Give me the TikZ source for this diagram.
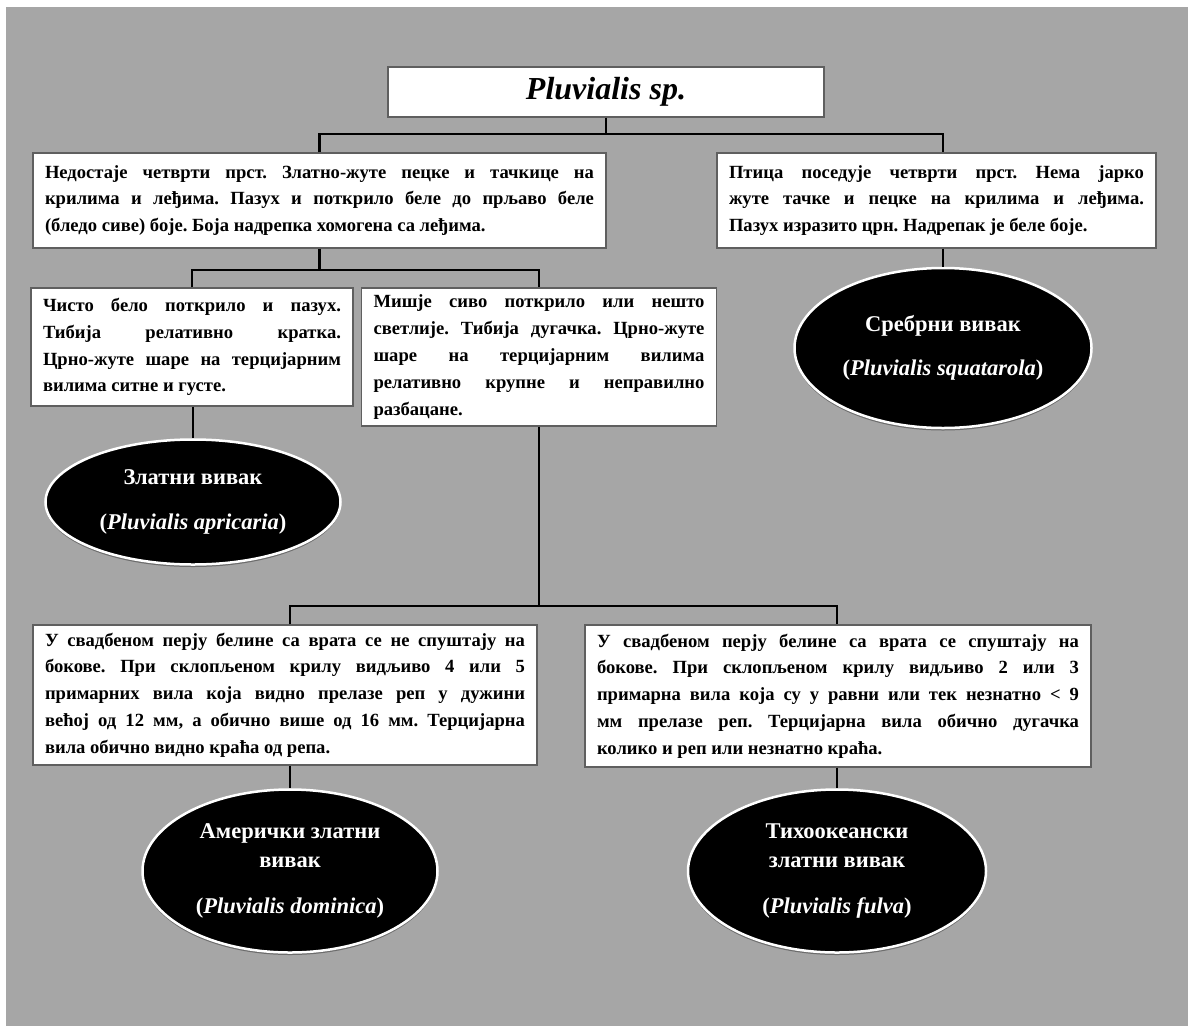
\documentclass[tikz,border=0pt]{standalone}
\usepackage{fontspec}
\setmainfont{Liberation Serif}
\usepackage{xcolor}
\usepackage{tikz}
\usetikzlibrary{shapes,arrows,positioning,calc,shadows}
\definecolor{panelgrey}{RGB}{166,166,166}
\definecolor{edgegrey}{RGB}{95,95,95}
\tolerance=10000
\hyphenpenalty=10000
\frenchspacing
\tikzset{
  titlebox/.style={rectangle, draw=edgegrey, line width=1.2pt, fill=white, inner sep=0pt,
    font=\bfseries\itshape\fontsize{32}{36}\selectfont},
  keybox/.style={rectangle, draw=edgegrey, line width=1.2pt, fill=white, align=justify,
    inner xsep=12pt, inner ysep=3pt, font=\bfseries\fontsize{18.6}{26.8}\selectfont},
  species/.style={ellipse, draw=white, line width=2.5pt, fill=black, text=white, inner sep=0pt,
    align=center, font=\bfseries\fontsize{22.5}{29}\selectfont,
    drop shadow={shadow xshift=0pt, shadow yshift=-2.5pt, opacity=.35, fill=black}},
  link/.style={line width=2.5pt, black},
}
\begin{document}
\begin{tikzpicture}[x=1pt, y=-1pt]
  % background panel
  \fill[white] (0,0) rectangle (1188,1026);
  \fill[panelgrey] (6,7) rectangle (1188,1026);

  % genus
  \node[titlebox, minimum width=436pt, minimum height=50pt] (genus) at (606,92) {Pluvialis sp.};

  % first split
  \node[keybox, text width=549pt, minimum height=95pt] (noToe) at (319.5,200.5)
    {Недостаје четврти прст. Златно-жуте пецке и тачкице на\linebreak
     крилима и леђима. Пазух и поткрило беле до прљаво беле\linebreak
     (бледо сиве) боје. Боја надрепка хомогена са леђима.};
  \node[keybox, text width=415pt, minimum height=95pt] (hasToe) at (936.5,200.5)
    {Птица поседује четврти прст. Нема јарко\linebreak
     жуте тачке и пецке на крилима и леђима.\linebreak
     Пазух изразито црн. Надрепак је беле боје.};

  % second split
  \node[keybox, text width=298pt, minimum height=118pt] (whiteWing) at (192,347)
    {Чисто бело поткрило и пазух.\linebreak
     Тибија релативно кратка.\linebreak
     Црно-жуте шаре на терцијарним\linebreak
     вилима ситне и густе.};
  \node[keybox, text width=331pt, minimum height=138pt] (greyWing) at (539,357)
    {Мишје сиво поткрило или нешто\linebreak
     светлије. Тибија дугачка. Црно-жуте\linebreak
     шаре на терцијарним вилима\linebreak
     релативно крупне и неправилно\linebreak
     разбацане.};

  % third split
  \node[keybox, text width=480pt, minimum height=140pt] (noFlank) at (285,695)
    {У свадбеном перју белине са врата се не спуштају на\linebreak
     бокове. При склопљеном крилу видљиво 4 или 5\linebreak
     примарних вила која видно прелазе реп у дужини\linebreak
     већој од 12 мм, а обично више од 16 мм. Терцијарна\linebreak
     вила обично видно краћа од репа.};
  \node[keybox, text width=482pt, minimum height=142pt] (flank) at (838,696)
    {У свадбеном перју белине са врата се спуштају на\linebreak
     бокове. При склопљеном крилу видљиво 2 или 3\linebreak
     примарна вила која су у равни или тек незнатно < 9\linebreak
     мм прелазе реп. Терцијарна вила обично дугачка\linebreak
     колико и реп или незнатно краћа.};

  % species
  \node[species, minimum width=295pt, minimum height=125pt] (apricaria) at (193,502)
    {Златни вивак\\[16pt](\textit{Pluvialis apricaria})};
  \node[species, minimum width=297pt, minimum height=160pt] (squatarola) at (943,348)
    {Сребрни вивак\\[15pt](\textit{Pluvialis squatarola})};
  \node[species, minimum width=295pt, minimum height=163pt] (dominica) at (290,871)
    {Амерички златни\\вивак\\[17pt](\textit{Pluvialis dominica})};
  \node[species, minimum width=298pt, minimum height=163pt] (fulva) at (837,871)
    {Тихоокеански\\златни вивак\\[17pt](\textit{Pluvialis fulva})};

  % connectors
  \draw[link] (genus.south) -- (genus.south |- 0,134);
  \draw[link] (noToe.north) -- (noToe.north |- 0,134) -- (squatarola.north |- 0,134)
    -- (squatarola.north |- hasToe.north);
  \draw[link] (hasToe.south -| squatarola.north) -- (squatarola.north);
  \draw[link] (noToe.south) -- (noToe.south |- 0,270);
  \draw[link] (whiteWing.north) -- (whiteWing.north |- 0,270) -- (greyWing.north |- 0,270)
    -- (greyWing.north);
  \draw[link] (whiteWing.south -| apricaria.north) -- (apricaria.north);
  \draw[link] (greyWing.south) -- (greyWing.south |- 0,606);
  \draw[link] (dominica.north |- noFlank.north) -- (dominica.north |- 0,606)
    -- (fulva.north |- 0,606) -- (fulva.north |- flank.north);
  \draw[link] (noFlank.south -| dominica.north) -- (dominica.north);
  \draw[link] (flank.south -| fulva.north) -- (fulva.north);
\end{tikzpicture}
\end{document}
